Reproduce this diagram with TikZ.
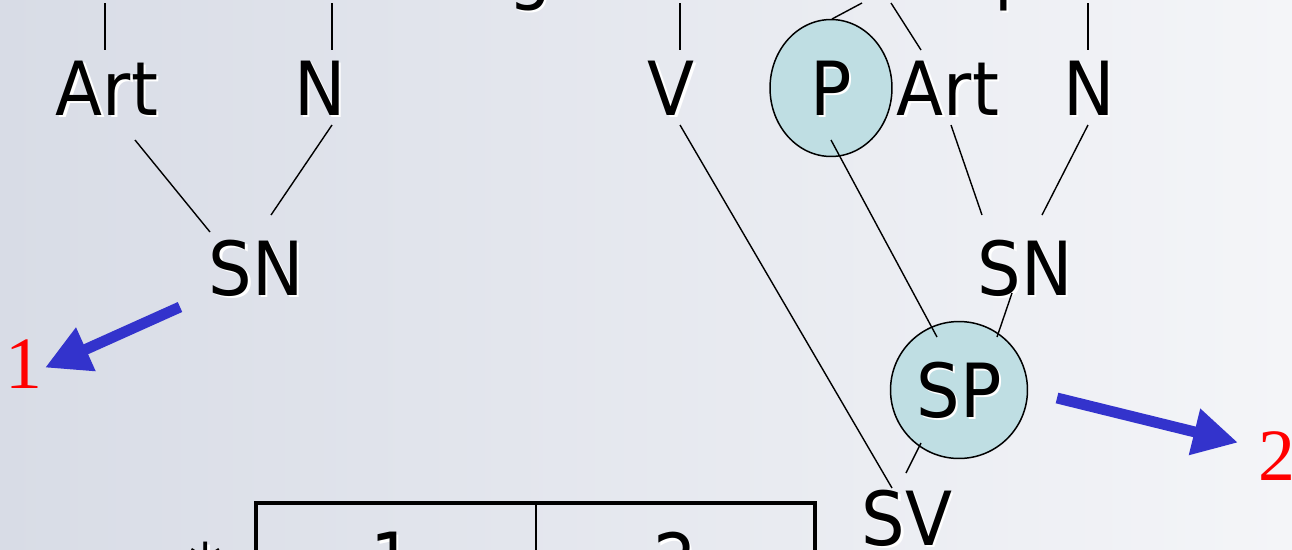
\documentclass[tikz,border=0pt]{standalone}
\usepackage{fontspec}
\usetikzlibrary{arrows.meta,calc,shapes.geometric}
\newfontfamily\labfont{DejaVu Sans}[FakeStretch=0.92]
\newfontfamily\redfont{Liberation Serif}
\definecolor{bgL}{RGB}{216,220,230}
\definecolor{bgR}{RGB}{244,245,248}
\definecolor{bubblecol}{RGB}{191,222,227}
\definecolor{arrowblue}{RGB}{51,51,204}
\newcommand\shd[1]{\makebox[0pt][l]{\kern0.5mm\raisebox{-0.5mm}{\textcolor{white}{#1}}}#1}
\begin{document}
\begin{tikzpicture}[x=0.02cm,y=-0.02cm,
  lab/.style={font=\fontsize{42.5}{50}\selectfont\labfont, text height=31pt, text depth=0pt, inner sep=0pt},
  frag/.style={font=\fontsize{42.5}{50}\selectfont\labfont, inner sep=0pt},
  bubble/.style={draw, line width=0.85pt, fill=bubblecol},
  conn/.style={line width=0.8pt},
  redlab/.style={font=\fontsize{42}{50}\selectfont\redfont, text=red, inner sep=0pt, anchor=base},
  blarrow/.style={draw=arrowblue, line width=6.2pt, -{Triangle[length=25.5pt,width=25.5pt]}},
  celltext/.style={font=\fontsize{42.5}{50}\selectfont\labfont, inner sep=0pt, anchor=north}]
\useasboundingbox (0,0) rectangle (1292,549);
\clip (0,0) rectangle (1292,549);
\shade[left color=bgL, right color=bgR] (0,0) rectangle (1292,549);

% fragments of text above the crop
\node[frag, anchor=base] (fragg) at (530,-5) {\shd{g}};
\node[frag, anchor=base west] (fragp) at (994,-5) {\shd{p}};

% nodes
\node[lab] (artL) at (107,88) {\shd{Art}};
\node[lab] (nL) at (320,88) {\shd{N}};
\node[lab] (snL) at (256,268) {\shd{SN}};
\node[lab] (V) at (671,88) {\shd{V}};
\node[lab, bubble, ellipse, minimum width=24.4mm, minimum height=27.4mm] (P) at (831,88) {\shd{P}};
\node[lab] (artR) at (948,88) {\shd{Art}};
\node[lab] (nR) at (1089,88) {\shd{N}};
\node[lab] (snR) at (1025,268) {\shd{SN}};
\node[lab, bubble, circle, minimum size=27.4mm] (SP) at (959,390) {\shd{SP}};
\node[lab] (SV) at (907,518) {\shd{SV}};

\node[redlab] (one) at (24,388) {1};
\node[redlab] (two) at (1277,480) {2};

% top free ends
\coordinate (tA) at (105,3);
\coordinate (tB) at (332,3);
\coordinate (tC) at (680,3);
\coordinate (tD) at (862,3);
\coordinate (tE) at (891,3);
\coordinate (tF) at (1088,3);

\draw[conn] (tA) -- ($(artL)+(-2,-38)$);
\draw[conn] (tB) -- ($(nL)+(12,-38)$);
\draw[conn] (tC) -- ($(V)+(9,-38)$);
\draw[conn] (tD) -- ($(P)+(1,-69)$);
\draw[conn] (tE) -- ($(artR)+(-27,-38)$);
\draw[conn] (tF) -- ($(nR)+(-1,-38)$);

% tree connectors
\draw[conn] ($(artL)+(28,52)$) -- ($(snL)+(-46,-36)$);
\draw[conn] ($(nL)+(12,37)$) -- ($(snL)+(15,-53)$);
\draw[conn] ($(V)+(9,37)$) -- ($(SV)+(-15,-30)$);
\draw[conn] ($(P)+(0,52)$) -- ($(SP)+(-22,-53)$);
\draw[conn] ($(artR)+(3,37)$) -- ($(snR)+(-43,-53)$);
\draw[conn] ($(nR)+(-1,37)$) -- ($(snR)+(17,-53)$);
\draw[conn] ($(snR)+(-13,25)$) -- ($(SP)+(38,-53)$);
\draw[conn] ($(SP)+(-38,53)$) -- ($(SV)+(-1,-45)$);

% blue arrows
\draw[blarrow] ($(snL)+(-76,39)$) -- ($(one)+(21,4)$);
\draw[blarrow] ($(SP)+(98,8)$) -- ($(two)+(-39,-13)$);

% table (cut at bottom)
\draw[line width=2.3pt] (256,620) |- (815,503) -- (815,620);
\draw[line width=1.2pt] (536,503) -- (536,620);
\node[celltext] (star) at (206,542) {\shd{*}};
\node[celltext] (c1) at (392,532) {\shd{1}};
\node[celltext] (c2) at (675,532) {\shd{2}};
\end{tikzpicture}
\end{document}
